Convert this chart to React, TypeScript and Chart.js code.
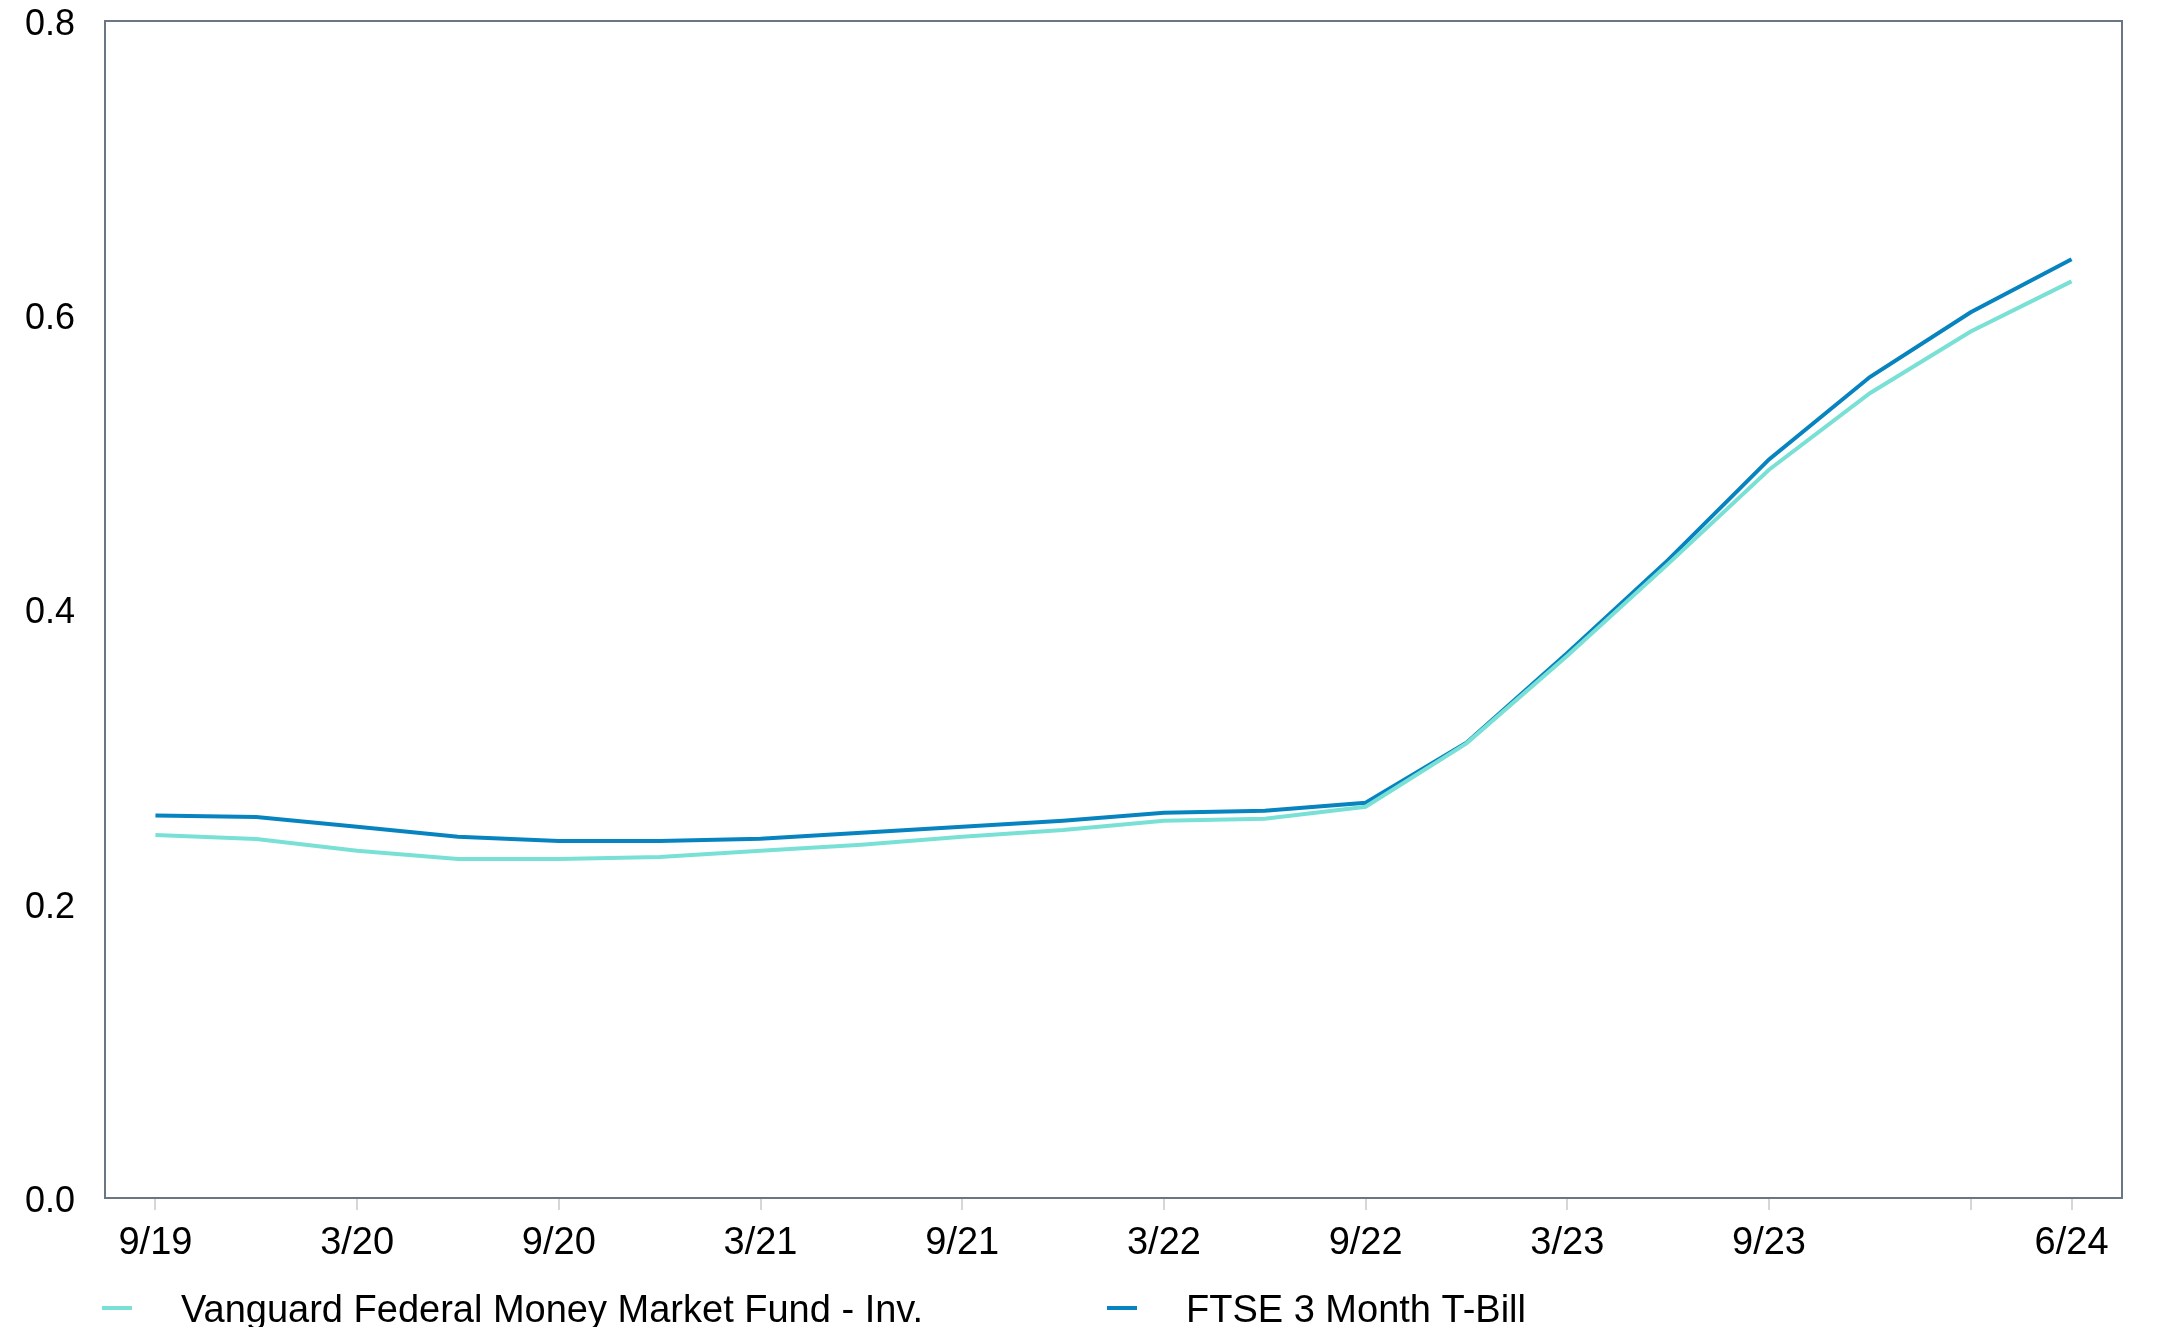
import React, { useEffect, useRef } from 'react';
import { Chart, registerables } from 'chart.js';

Chart.register(...registerables);

// ---- data ----
const quarters = ['9/19', '12/19', '3/20', '6/20', '9/20', '12/20', '3/21', '6/21', '9/21', '12/21', '3/22', '6/22', '9/22', '12/22', '3/23', '6/23', '9/23', '12/23', '3/24', '6/24'];
const vanguardValues = [0.2467, 0.244, 0.236, 0.2304, 0.2304, 0.2317, 0.236, 0.2401, 0.2455, 0.2501, 0.2564, 0.2578, 0.2659, 0.309, 0.3686, 0.431, 0.495, 0.547, 0.589, 0.623];
const ftseValues = [0.26, 0.259, 0.2523, 0.2455, 0.2426, 0.2426, 0.2442, 0.2483, 0.2523, 0.2564, 0.2619, 0.2632, 0.2686, 0.3095, 0.3705, 0.4337, 0.502, 0.558, 0.602, 0.638];
const xTickLabels = ['9/19', '3/20', '9/20', '3/21', '9/21', '3/22', '9/22', '3/23', '9/23', '6/24'];
const xTickMarks = ['9/19', '3/20', '9/20', '3/21', '9/21', '3/22', '9/22', '3/23', '9/23', '3/24', '6/24'];
const yTickValues = [0, 0.2, 0.4, 0.6, 0.8];
const seriesNames = ['Vanguard Federal Money Market Fund - Inv.', 'FTSE 3 Month T-Bill'];
const seriesColors = ['#79e0d6', '#0784bf'];

const FONT = '"Liberation Sans", Arial, Helvetica, sans-serif';

const framePlugin = {
  id: 'frame',
  beforeDatasetsDraw(chart: any) {
    const { ctx, chartArea } = chart;
    ctx.save();
    ctx.strokeStyle = '#6b7683';
    ctx.lineWidth = 2;
    ctx.strokeRect(chartArea.left, chartArea.top, chartArea.right - chartArea.left, chartArea.bottom - chartArea.top);
    ctx.restore();
  },
};

const lineLegendPlugin = {
  id: 'lineLegend',
  afterDraw(chart: any) {
    const { ctx, chartArea } = chart;
    const markerStarts = [-3, 1002];
    ctx.save();
    ctx.font = `38px ${FONT}`;
    ctx.textBaseline = 'alphabetic';
    ctx.textAlign = 'left';
    chart.data.datasets.forEach((ds: any, i: number) => {
      const x = chartArea.left + markerStarts[i];
      ctx.fillStyle = ds.borderColor;
      ctx.fillRect(x, chartArea.bottom + 108, 30, 4);
      ctx.fillStyle = '#000';
      ctx.fillText(ds.label, x + 79, chartArea.bottom + 124);
    });
    ctx.restore();
  },
};

export default function App() {
  const canvasRef = useRef<HTMLCanvasElement | null>(null);

  useEffect(() => {
    if (!canvasRef.current) return;
    Chart.defaults.font.family = FONT;
    Chart.defaults.color = '#000';
    const chart = new Chart(canvasRef.current, {
      type: 'line',
      data: {
        labels: quarters,
        datasets: [
          {
            label: seriesNames[0],
            data: vanguardValues,
            borderColor: seriesColors[0],
            backgroundColor: seriesColors[0],
            borderWidth: 4,
            pointRadius: 0,
            tension: 0,
            fill: false,
          },
          {
            label: seriesNames[1],
            data: ftseValues,
            borderColor: seriesColors[1],
            backgroundColor: seriesColors[1],
            borderWidth: 4,
            pointRadius: 0,
            tension: 0,
            fill: false,
          },
        ],
      },
      options: {
        responsive: false,
        animation: false,
        devicePixelRatio: 1,
        layout: { padding: { top: 13, right: 48, bottom: 63, left: 0 } },
        plugins: {
          legend: { display: false },
          tooltip: { enabled: false },
        },
        scales: {
          x: {
            type: 'category',
            offset: true,
            border: { display: false },
            grid: {
              display: true,
              offset: false,
              drawOnChartArea: false,
              drawTicks: true,
              tickLength: 12,
              lineWidth: 2,
              tickColor: (c: any) => (xTickMarks.includes(quarters[c.index]) ? '#d6d6d6' : 'rgba(0,0,0,0)'),
            },
            ticks: {
              autoSkip: false,
              maxRotation: 0,
              minRotation: 0,
              padding: 11,
              font: { size: 38 },
              color: '#000',
              callback: (_v: any, i: number) => (xTickLabels.includes(quarters[i]) ? quarters[i] : ''),
            },
            afterFit: (s: any) => {
              s.height = 66;
            },
          },
          y: {
            min: 0,
            max: 0.8,
            border: { display: false },
            grid: {
              display: true,
              drawOnChartArea: false,
              drawTicks: true,
              tickLength: 30,
              tickColor: 'rgba(0,0,0,0)',
            },
            afterBuildTicks: (s: any) => {
              s.ticks = yTickValues.map((v) => ({ value: v }));
            },
            ticks: {
              padding: 0,
              labelOffset: 4,
              font: { size: 36, lineHeight: 0.72 },
              color: '#000',
              callback: (v: any) => Number(v).toFixed(1),
            },
            afterFit: (s: any) => {
              s.width = 97;
            },
          },
        },
      },
      plugins: [framePlugin, lineLegendPlugin],
    });
    return () => chart.destroy();
  }, []);

  return (
    <div style={{ width: 2162, height: 1319 }}>
      <canvas ref={canvasRef} width={2162} height={1319} style={{ display: 'block' }} />
    </div>
  );
}
